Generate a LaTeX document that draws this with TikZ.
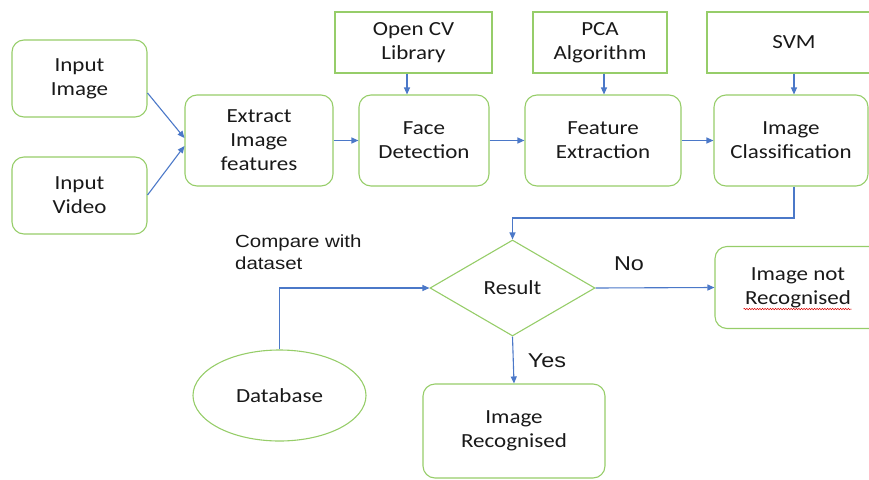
\documentclass[tikz,border=0pt]{standalone}
\usepackage{fontspec}
\setmainfont{Carlito}[FakeStretch=1.15]
\newfontfamily\arialfont{Liberation Sans}[FakeStretch=1.17]
\usetikzlibrary{arrows.meta,calc,shapes.geometric,decorations.pathmorphing}
\definecolor{boxgreen}{RGB}{150,205,105}
\definecolor{arrowblue}{RGB}{75,120,200}
\definecolor{txt}{RGB}{25,25,25}
\begin{document}
\begin{tikzpicture}[x=1pt,y=-1pt,
  every node/.style={text=txt,font=\fontsize{20}{24}\selectfont,align=center,inner sep=0pt},
  rbox/.style={draw=boxgreen,line width=1.1pt,rounded corners=12pt},
  sbox/.style={draw=boxgreen,line width=1.1pt},
  conn/.style={draw=arrowblue,line width=1.1pt},
  arr/.style={conn,-{Triangle[length=7pt,width=6pt]}},
  lab/.style={font=\arialfont\fontsize{20}{24}\selectfont}
]
\useasboundingbox (0,0) rectangle (869,479);
\begin{scope}
\clip (0,0) rectangle (869,479);
% top row rectangles
\node[sbox,minimum width=157pt,minimum height=61pt] (opencv) at (413.5,42.5) {Open CV\\Library};
\node[sbox,minimum width=134pt,minimum height=61pt] (pca) at (600,42.5) {PCA\\Algorithm};
\node[sbox,minimum width=174pt,minimum height=61pt] (svm) at (794,42.5) {SVM};
% left inputs
\node[rbox,minimum width=135pt,minimum height=77pt] (inimg) at (79.5,78.5) {Input\\Image};
\node[rbox,minimum width=135pt,minimum height=77pt] (invid) at (79.5,195.5) {Input\\Video};
% middle row
\node[rbox,minimum width=148pt,minimum height=91pt] (extract) at (259,140.5) {Extract\\Image\\features};
\node[rbox,minimum width=130pt,minimum height=91pt] (face) at (424,140.5) {Face\\Detection};
\node[rbox,minimum width=156pt,minimum height=91pt] (feat) at (603,140.5) {Feature\\Extraction};
\node[rbox,minimum width=154pt,minimum height=91pt] (cls) at (791,140.5) {Image\\Classification};
% decision
\node[draw=boxgreen,line width=1.1pt,diamond,aspect=1.72,minimum width=165pt,minimum height=96pt] (result) at (512.5,288) {Result};
\node[rbox,minimum width=166pt,minimum height=82pt] (notrec) at (798,287.5) {Image not\\Recognised};
\node[draw=boxgreen,line width=1.1pt,ellipse,minimum width=173pt,minimum height=91pt] (db) at (279.5,395.5) {Database};
\node[rbox,minimum width=182pt,minimum height=94pt] (rec) at (514,431) {Image\\Recognised};
% labels
\node[lab] (no) at (629,264) {No};
\node[lab] (yes) at (547,361) {Yes};
\node[anchor=base west,align=left,font=\arialfont\fontsize{17.5}{21.5}\selectfont] (cmp) at (235,269) {Compare with\\dataset};
% spelling squiggle
\draw[red!85!black,line width=0.5pt,decorate,decoration={snake,amplitude=0.7pt,segment length=2.6pt}]
  ($(notrec.center)+(-54.5,21.5)$) -- ($(notrec.center)+(53.5,21.5)$);
% coordinates
\coordinate (x1) at (407,0);
\coordinate (x2) at (604,0);
\coordinate (x3) at (794,0);
\coordinate (j) at (794,218);
% connectors
\draw[arr] ($(inimg.east)+(0,14.5)$) -- ($(extract.west)+(0,-2.5)$);
\draw[arr] ($(invid.east)+(0,-0.5)$) -- ($(extract.west)+(0,5.5)$);
\draw[arr] (extract.east) -- (face.west);
\draw[arr] (face.east) -- (feat.west);
\draw[arr] (feat.east) -- (cls.west);
\draw[arr] (opencv.south -| x1) -- (face.north -| x1);
\draw[arr] (pca.south -| x2) -- (feat.north -| x2);
\draw[arr] (svm.south -| x3) -- (cls.north -| x3);
\draw[arr] (cls.south -| j) -- (j) -| (result.north);
\draw[arr] (db.north) |- (result.west);
\draw[arr] (result.east) -- (notrec.west);
\draw[arr] (result.south) -- (rec.north);
\end{scope}
\end{tikzpicture}
\end{document}
